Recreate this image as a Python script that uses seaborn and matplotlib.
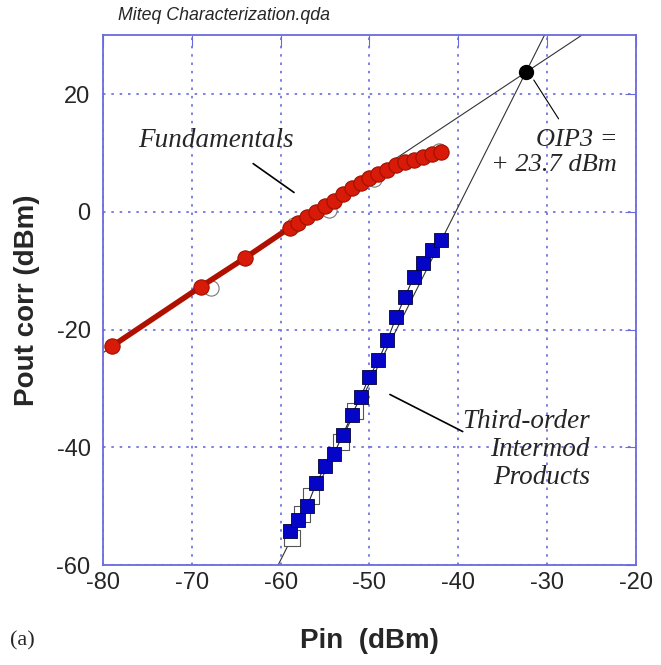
import numpy as np
import pandas as pd
import matplotlib
matplotlib.use("Agg")
import matplotlib.pyplot as plt
import seaborn as sns

# fundamentals (Pin, Pout corr)
fund_pin = [-79, -69, -64, -59, -58, -57, -56, -55, -54, -53, -52, -51, -50,
            -49, -48, -47, -46, -45, -44, -43, -42]
fund_pout = [-22.8, -12.7, -7.8, -2.7, -1.8, -0.9, 0.0, 1.0, 1.9, 3.0, 4.0, 4.9,
             5.7, 6.5, 7.2, 7.9, 8.5, 8.9, 9.4, 9.8, 10.1]

# third-order intermod products
im3_pin = [-59, -58, -57, -56, -55, -54, -53, -52, -51, -50, -49, -48, -47,
           -46, -45, -44, -43, -42]
im3_pout = [-54.1, -52.4, -49.9, -46.1, -43.2, -41.1, -37.8, -34.5, -31.4,
            -28.0, -25.2, -21.8, -17.9, -14.4, -11.0, -8.6, -6.4, -4.7]

# faint open markers of the raw (uncorrected) run
raw_fund_pin = [-67.8, -58.5, -54.6, -49.5, -42.2]
raw_fund_pout = [-13.0, -2.2, 0.4, 5.6, 10.3]
raw_im3_pin = [-58.7, -57.6, -56.6, -53.2, -51.6]
raw_im3_pout = [-55.4, -51.3, -48.3, -39.0, -33.8]

oip3_pin = -32.4
oip3 = 23.7

df_f = pd.DataFrame({"pin": fund_pin, "pout": fund_pout})
df_i = pd.DataFrame({"pin": im3_pin, "pout": im3_pout})

sns.set_style("white")
plt.rcParams["font.family"] = ["Liberation Sans", "DejaVu Sans"]
plt.rcParams["axes.unicode_minus"] = False

fig = plt.figure(figsize=(6.61, 6.65), dpi=100)
ax = fig.add_axes([0.156, 0.150, 0.806, 0.797])

frame = "#6a6ae0"
# extrapolation lines (slope 1 and slope 3 through OIP3)
xx = np.array([-80, -20])
ax.plot(xx, xx - oip3_pin + oip3, color="#333333", lw=0.8, zorder=2)
ax.plot(xx, 3 * (xx - oip3_pin) + oip3, color="#333333", lw=0.8, zorder=2)

ax.scatter(raw_fund_pin, raw_fund_pout, s=120, facecolor="white",
           edgecolor="#777777", lw=0.8, zorder=2)
ax.scatter(raw_im3_pin, raw_im3_pout, s=120, marker="s", facecolor="white",
           edgecolor="#555555", lw=0.8, zorder=2)

sns.lineplot(data=df_f, x="pin", y="pout", ax=ax, color="#b01000", lw=4,
             marker="o", markersize=11, markerfacecolor="#d81a08",
             markeredgecolor="#a01000", markeredgewidth=0.8, zorder=3)
sns.lineplot(data=df_i, x="pin", y="pout", ax=ax, color="#222244", lw=0.8,
             marker="s", markersize=10.5, markerfacecolor="#0505c8",
             markeredgecolor="#000033", markeredgewidth=0.6, zorder=3)

ax.scatter([oip3_pin], [oip3], s=100, color="black", zorder=5)

ax.set_xlim(-80, -20)
ax.set_ylim(-60, 30)
ax.set_xticks(range(-80, -19, 10))
ax.set_yticks(range(-60, 31, 20))
ax.grid(True, color=frame, linestyle=(0, (1.5, 3.5)), lw=1.2)
for s in ax.spines.values():
    s.set_color(frame)
    s.set_linewidth(1.3)
ax.tick_params(direction="in", length=8, color=frame, labelsize=17,
               top=True, right=True)
ax.tick_params(axis="x", pad=5)
ax.tick_params(axis="y", pad=9)
ax.set_xlabel("Pin  (dBm)", fontsize=20, fontweight="bold", labelpad=24)
ax.set_ylabel("Pout corr (dBm)", fontsize=20, fontweight="bold", labelpad=12)

serif = ["Liberation Serif", "DejaVu Serif"]
ax.text(-67.3, 12.1, "Fundamentals", fontsize=19.5, style="italic",
        family=serif, ha="center", va="center")
ax.plot([-63.1, -58.5], [8.2, 3.3], color="black", lw=1.2)
ax.text(-25.2, -40.3, "Third-order\nIntermod\nProducts", fontsize=19.5,
        style="italic", family=serif, ha="right", va="center",
        linespacing=1.15)
ax.plot([-47.7, -39.5], [-31.0, -37.3], color="black", lw=1.2)
ax.text(-22.1, 10.1, "OIP3 =\n+ 23.7 dBm", fontsize=19, style="italic",
        family=serif, ha="right", va="center", linespacing=1.15)
ax.plot([-31.5, -28.7], [22.4, 15.8], color="black", lw=0.8)

fig.text(0.178, 0.977, "Miteq Characterization.qda", fontsize=12.8,
         style="italic", ha="left", va="center")
fig.text(0.015, 0.036, "(a)", fontsize=16, family=serif, ha="left",
         va="center")

fig.savefig("out.png", dpi=100)
